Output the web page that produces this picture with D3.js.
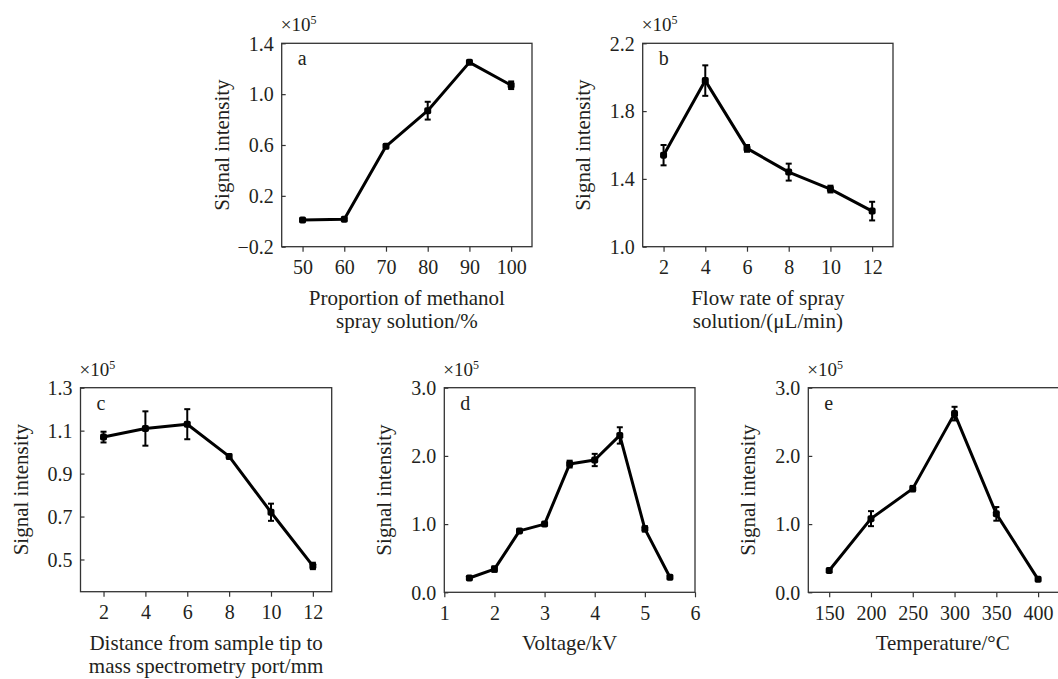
<!DOCTYPE html>
<html>
<head>
<meta charset="utf-8">
<script src="https://cdn.jsdelivr.net/npm/d3@7"></script>
<style>
  body { margin: 0; background: #fff; }
  text { font-family: "Liberation Serif", "Times New Roman", serif; fill: #231f20; }
</style>
</head>
<body>
<div id="chart"></div>
<script>
// values (signal intensity in units of 1e5)
var methanolX = [50, 60, 70, 80, 90, 100];
var methanolY = [0.01, 0.015, 0.59, 0.87, 1.25, 1.07];
var methanolErr = [0.01, 0.01, 0.015, 0.07, 0.012, 0.03];

var flowX = [2, 4, 6, 8, 10, 12];
var flowY = [1.54, 1.98, 1.58, 1.44, 1.34, 1.21];
var flowErr = [0.06, 0.09, 0.02, 0.05, 0.02, 0.055];

var distX = [2, 4, 6, 8, 10, 12];
var distY = [1.07, 1.11, 1.13, 0.98, 0.72, 0.47];
var distErr = [0.025, 0.08, 0.07, 0.01, 0.04, 0.015];

var voltX = [1.5, 2, 2.5, 3, 3.5, 4, 4.5, 5, 5.5];
var voltY = [0.21, 0.34, 0.9, 1.0, 1.88, 1.94, 2.3, 0.93, 0.22];
var voltErr = [0.02, 0.04, 0.02, 0.02, 0.05, 0.09, 0.12, 0.04, 0.02];

var tempX = [150, 200, 250, 300, 350, 400];
var tempY = [0.32, 1.08, 1.52, 2.62, 1.15, 0.19];
var tempErr = [0.02, 0.11, 0.04, 0.1, 0.1, 0.015];

var svgWidth = 1058;
var svgHeight = 679;

var svg = d3.select("#chart")
    .append("svg")
    .attr("width", svgWidth)
    .attr("height", svgHeight);

// panel layout: box in page pixels, axis domains and ticks
var panels = [
    { letter: "a", x: methanolX, y: methanolY, err: methanolErr,
      left: 281.7, right: 532, top: 43.3, bottom: 246.7,
      xDomain: [45, 105], yDomain: [-0.2, 1.4],
      xTicks: [50, 60, 70, 80, 90, 100], yTicks: [-0.2, 0.2, 0.6, 1.0, 1.4],
      title: ["Proportion of methanol", "spray solution/%"], titleShift: 0 },
    { letter: "b", x: flowX, y: flowY, err: flowErr,
      left: 642.7, right: 893, top: 43.3, bottom: 246.7,
      xDomain: [1, 13], yDomain: [1.0, 2.2],
      xTicks: [2, 4, 6, 8, 10, 12], yTicks: [1.0, 1.4, 1.8, 2.2],
      title: ["Flow rate of spray", "solution/(\u03bcL/min)"], titleShift: 0 },
    { letter: "c", x: distX, y: distY, err: distErr,
      left: 80.5, right: 331.7, top: 387.7, bottom: 591.7,
      xDomain: [0.9, 12.9], yDomain: [0.35, 1.3],
      xTicks: [2, 4, 6, 8, 10, 12], yTicks: [0.5, 0.7, 0.9, 1.1, 1.3],
      title: ["Distance from sample tip to", "mass spectrometry port/mm"], titleShift: 0 },
    { letter: "d", x: voltX, y: voltY, err: voltErr,
      left: 444.3, right: 695, top: 387.7, bottom: 592.3,
      xDomain: [1, 6], yDomain: [0, 3],
      xTicks: [1, 2, 3, 4, 5, 6], yTicks: [0, 1, 2, 3],
      title: ["Voltage/kV"], titleShift: 0 },
    { letter: "e", x: tempX, y: tempY, err: tempErr,
      left: 808.3, right: 1059, top: 387.7, bottom: 592.3,
      xDomain: [125, 425], yDomain: [0, 3],
      xTicks: [150, 200, 250, 300, 350, 400], yTicks: [0, 1, 2, 3],
      title: ["Temperature/\u00b0C"], titleShift: 9 }
];

var yFormat = d3.format(".1f");
var xFormat = d3.format("d");

panels.forEach(function(p) {
    var g = svg.append("g");

    var xScale = d3.scaleLinear().domain(p.xDomain).range([p.left, p.right]);
    var yScale = d3.scaleLinear().domain(p.yDomain).range([p.bottom, p.top]);

    // x axis: ticks outside
    var xAxis = g.append("g")
        .attr("transform", `translate(0, ${p.bottom})`)
        .call(d3.axisBottom(xScale).tickValues(p.xTicks).tickFormat(xFormat)
            .tickSize(5).tickPadding(9).tickSizeOuter(0));

    // y axis: ticks inside
    var yAxis = g.append("g")
        .attr("transform", `translate(${p.left}, 0)`)
        .call(d3.axisLeft(yScale).tickValues(p.yTicks).tickFormat(yFormat)
            .tickSize(-4).tickPadding(8).tickSizeOuter(0));

    [xAxis, yAxis].forEach(function(ax) {
        ax.select(".domain").remove();
        ax.selectAll(".tick line").attr("stroke", "#333").attr("stroke-width", 1.2);
        ax.selectAll(".tick text")
            .attr("font-family", "Liberation Serif, serif")
            .attr("font-size", "20px")
            .attr("fill", "#231f20");
    });
    xAxis.selectAll(".tick text").attr("dy", "0.68em");
    yAxis.selectAll(".tick text").attr("dy", "0.34em");

    // frame
    g.append("rect")
        .attr("x", p.left)
        .attr("y", p.top)
        .attr("width", p.right - p.left)
        .attr("height", p.bottom - p.top)
        .attr("fill", "none")
        .attr("stroke", "#333")
        .attr("stroke-width", 1.3);

    // multiplier label
    var mult = g.append("text")
        .attr("x", p.left - 1)
        .attr("y", p.top - 12)
        .attr("font-size", "19px");
    mult.append("tspan").text("\u00d710");
    mult.append("tspan").attr("font-size", "12px").attr("dy", "-7").text("5");

    // panel letter
    g.append("text")
        .attr("x", p.left + 16)
        .attr("y", p.top + 22)
        .attr("font-size", "20px")
        .text(p.letter);

    // y title
    g.append("text")
        .attr("transform", `translate(${p.left - 53}, ${(p.top + p.bottom) / 2}) rotate(-90)`)
        .attr("text-anchor", "middle")
        .attr("font-size", "21px")
        .text("Signal intensity");

    // x title
    p.title.forEach(function(line, i) {
        g.append("text")
            .attr("x", (p.left + p.right) / 2 + p.titleShift)
            .attr("y", p.bottom + 58 + i * 23)
            .attr("text-anchor", "middle")
            .attr("font-size", "21px")
            .text(line);
    });

    var pts = p.x.map(function(d, i) { return { x: d, y: p.y[i], e: p.err[i] }; });

    // line
    var line = d3.line()
        .x(d => xScale(d.x))
        .y(d => yScale(d.y));

    g.append("path")
        .datum(pts)
        .attr("d", line)
        .attr("fill", "none")
        .attr("stroke", "#000")
        .attr("stroke-width", 3)
        .attr("stroke-linejoin", "round");

    // error bars
    var bars = g.selectAll(null)
        .data(pts)
        .enter()
        .append("g")
        .attr("stroke", "#000")
        .attr("stroke-width", 2);

    bars.append("line")
        .attr("x1", d => xScale(d.x))
        .attr("x2", d => xScale(d.x))
        .attr("y1", d => yScale(d.y - d.e))
        .attr("y2", d => yScale(d.y + d.e));

    bars.append("line")
        .attr("x1", d => xScale(d.x) - 3)
        .attr("x2", d => xScale(d.x) + 3)
        .attr("y1", d => yScale(d.y + d.e))
        .attr("y2", d => yScale(d.y + d.e));

    bars.append("line")
        .attr("x1", d => xScale(d.x) - 3)
        .attr("x2", d => xScale(d.x) + 3)
        .attr("y1", d => yScale(d.y - d.e))
        .attr("y2", d => yScale(d.y - d.e));

    // markers
    g.selectAll(null)
        .data(pts)
        .enter()
        .append("rect")
        .attr("x", d => xScale(d.x) - 3.5)
        .attr("y", d => yScale(d.y) - 3.5)
        .attr("width", 7)
        .attr("height", 7)
        .attr("rx", 1.8)
        .attr("fill", "#000");
});
</script>
</body>
</html>
